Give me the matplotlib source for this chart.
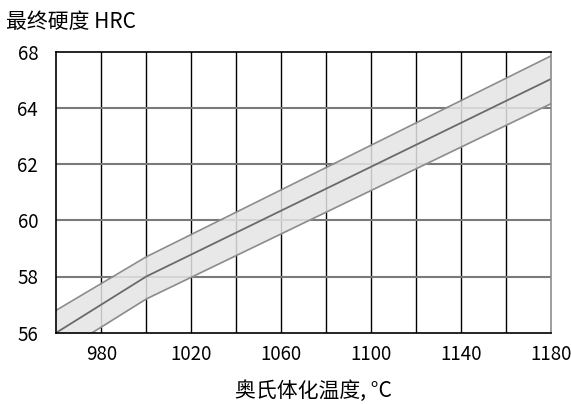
import numpy as np
import matplotlib
matplotlib.use("Agg")
import matplotlib.pyplot as plt

plt.rcParams["font.family"] = ["Noto Sans CJK SC", "DejaVu Sans"]

# band (hardness HRC vs austenitising temperature)
temp = [960, 1000, 1180]
upper = [56.8, 58.7, 65.85]
center = [56.0, 58.0, 65.03]
lower = [55.2, 57.2, 64.15]

x_ticks = [980, 1020, 1060, 1100, 1140, 1180]
y_ticks = [56, 58, 60, 62, 64, 66]
y_tick_labels = ["56", "58", "60", "62", "64", "68"]

fig = plt.figure(figsize=(5.71, 4.04), dpi=100)
ax = fig.add_axes([56.3 / 571, 1 - 332.7 / 404, (551 - 56.3) / 571, (332.7 - 51.7) / 404])

ax.set_xlim(960, 1180)
ax.set_ylim(56, 66)

# grid: black verticals every 20 degrees, grey horizontals
for xv in range(980, 1180, 20):
    ax.axvline(xv, color="black", lw=1.0, zorder=1)
for yv in y_ticks[1:-1]:
    ax.axhline(yv, color="#7a7a7a", lw=1.5, zorder=1)

ax.fill_between(temp, lower, upper, color="#e4e5e6", alpha=0.85, zorder=2, lw=0)
ax.plot(temp, upper, color="#8c8c8c", lw=1.2, zorder=3)
ax.plot(temp, lower, color="#8c8c8c", lw=1.2, zorder=3)
ax.plot(temp, center, color="#6a6a6a", lw=1.3, zorder=3)

for side in ["left", "bottom", "top"]:
    ax.spines[side].set_color("black")
    ax.spines[side].set_linewidth(1.2)
ax.spines["right"].set_color("#8c8c8c")
ax.spines["right"].set_linewidth(1.2)
for s in ax.spines.values():
    s.set_zorder(4)

ax.set_xticks(x_ticks)
ax.set_yticks(y_ticks)
ax.set_yticklabels(y_tick_labels)
ax.tick_params(length=0, labelsize=13.5)
ax.tick_params(axis="y", pad=13)
ax.tick_params(axis="x", pad=8)

fig.text(6 / 571, 1 - 22 / 404, "最终硬度 HRC", fontsize=15, va="center", ha="left")
fig.text(313 / 571, 1 - 391 / 404, "奥氏体化温度, °C", fontsize=15, va="center", ha="center")

fig.savefig("out.png", dpi=100)
